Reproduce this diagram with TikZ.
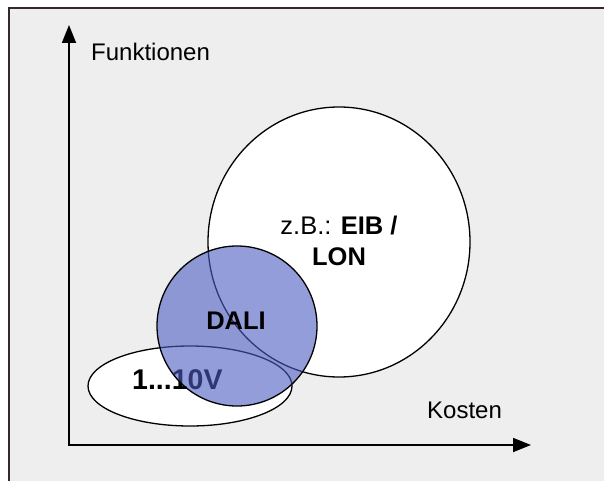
\documentclass[tikz,border=0pt]{standalone}
\usepackage{fontspec}
\setmainfont{Liberation Sans}
\usetikzlibrary{arrows.meta,shapes.geometric}

\definecolor{panelbg}{RGB}{238,238,238}
\definecolor{framecol}{RGB}{55,40,40}
\definecolor{daliblue}{RGB}{76,93,193}

\tikzset{
  axis/.style={line width=1.8pt, {Triangle[width=14pt,length=18pt]}-{Triangle[width=14pt,length=18pt]}},
  axislabel/.style={font=\fontsize{24}{28}\selectfont, inner sep=0pt, anchor=base west},
  setshape/.style={ellipse, draw=black, line width=1.3pt, inner sep=0pt},
  setlabel/.style={font=\fontsize{25.5}{31}\selectfont, align=center, inner sep=0pt}
}

\begin{document}
\begin{tikzpicture}[x=1pt,y=-1pt]
  \useasboundingbox (0,0) rectangle (604,481);
  \clip (0,0) rectangle (604,481);
  \fill[white] (0,0) rectangle (604,481);
  % panel with its frame running off the right and bottom
  \filldraw[fill=panelbg, draw=framecol, line width=2pt] (9,8) rectangle (614,494);

  % axes
  \coordinate (origin) at (69,445);
  \coordinate (ytip) at (69,25);
  \coordinate (xtip) at (531,445);
  \draw[axis] (xtip) -- (origin) -- (ytip);
  \node[axislabel] (ylab) at (91,61) {Funktionen};
  \node[axislabel] (xlab) at (427,418) {Kosten};

  % bus systems
  \node[setshape, fill=white, minimum width=262pt, minimum height=270pt] (eib) at (339,242) {};
  \node[setlabel] (eibtext) at (339,241) {z.B.: \textbf{EIB /}\\\textbf{LON}};

  \node[setshape, fill=white, minimum width=204pt, minimum height=80pt] (volt) at (190,386) {};
  \node[font=\bfseries\fontsize{28.5}{32}\selectfont, inner sep=0pt, anchor=base west] (volttext) at (132,389) {1...10V};

  \node[setshape, circle, fill=daliblue, fill opacity=0.6, text opacity=1,
        minimum size=160pt] (dali) at (237,326) {};
  \node[setlabel, font=\bfseries\fontsize{25.5}{31}\selectfont] (dalitext) at (236,321) {DALI};
\end{tikzpicture}
\end{document}
